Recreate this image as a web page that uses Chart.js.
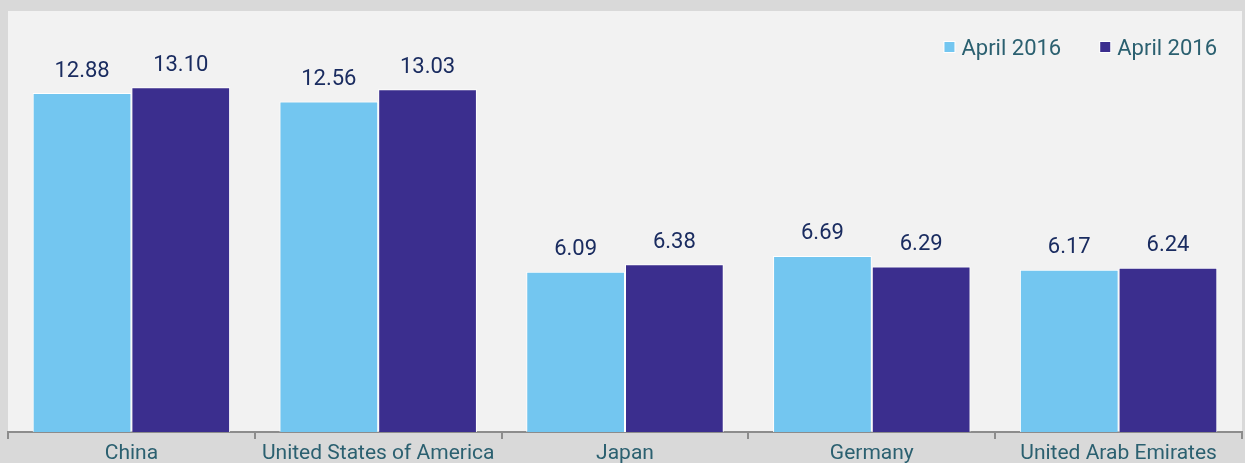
<!DOCTYPE html>
<html>
<head>
<meta charset="utf-8">
<script src="https://cdn.jsdelivr.net/npm/chart.js@4.4.1/dist/chart.umd.min.js"></script>
<style>
  html, body { margin: 0; padding: 0; background: #d9d9d9; }
  #wrap { width: 1245px; height: 463px; position: relative; }
</style>
</head>
<body>
<div id="wrap"><canvas id="c" width="1245" height="463"></canvas></div>
<script>
const categories = ['China', 'United States of America', 'Japan', 'Germany', 'United Arab Emirates'];
const seriesLabels = ['April 2016', 'April 2016'];
const seriesA = [12.88, 12.56, 6.09, 6.69, 6.17];
const seriesB = [13.10, 13.03, 6.38, 6.29, 6.24];
const yMax = 16;

const FONT = 'Roboto, "Open Sans", sans-serif';
const LIGHT = '#73c6f0';
const DARK = '#3b2e8e';
const TEAL = '#2b6070';
const NAVY = '#1a2c60';

const panelPlugin = {
  id: 'panel',
  beforeDraw(chart) {
    const { ctx, chartArea: a } = chart;
    ctx.save();
    ctx.fillStyle = '#f2f2f2';
    ctx.fillRect(a.left, a.top, a.right - a.left, a.bottom - a.top);
    ctx.restore();
  }
};

const labelPlugin = {
  id: 'valueLabels',
  afterDatasetsDraw(chart) {
    const { ctx } = chart;
    ctx.save();
    ctx.font = '22px ' + FONT;
    ctx.fillStyle = NAVY;
    ctx.textAlign = 'center';
    ctx.textBaseline = 'alphabetic';
    chart.data.datasets.forEach((ds, i) => {
      chart.getDatasetMeta(i).data.forEach((bar, j) => {
        ctx.fillText(ds.data[j].toFixed(2), bar.x, bar.y - 16.5);
      });
    });
    ctx.restore();
  }
};

const legendPlugin = {
  id: 'customLegend',
  afterDraw(chart) {
    const { ctx, chartArea: a } = chart;
    ctx.save();
    ctx.font = '22px ' + FONT;
    ctx.textBaseline = 'alphabetic';
    ctx.textAlign = 'left';
    const ds = chart.data.datasets;
    const box = 10, gapBoxText = 7, gapItems = 39;
    let x = a.right - 25;
    const baseline = 55;
    for (let i = ds.length - 1; i >= 0; i--) {
      const w = ctx.measureText(ds[i].label).width;
      const tx = x - w;
      ctx.fillStyle = TEAL;
      ctx.fillText(ds[i].label, tx, baseline);
      const bx = tx - gapBoxText - box;
      ctx.fillStyle = '#ffffff';
      ctx.fillRect(bx - 1, 42 - 1, box + 2, box + 2);
      ctx.fillStyle = ds[i].backgroundColor;
      ctx.fillRect(bx, 42, box, box);
      x = bx - gapItems;
    }
    ctx.restore();
  }
};

new Chart(document.getElementById('c'), {
  type: 'bar',
  data: {
    labels: categories,
    datasets: [
      { label: seriesLabels[0], data: seriesA, backgroundColor: LIGHT, borderColor: '#ffffff', borderWidth: 1 },
      { label: seriesLabels[1], data: seriesB, backgroundColor: DARK, borderColor: '#ffffff', borderWidth: 1 }
    ]
  },
  options: {
    responsive: false,
    animation: false,
    layout: { padding: { top: 11, left: 8, right: 3, bottom: 0 } },
    plugins: { legend: { display: false }, tooltip: { enabled: false }, title: { display: false } },
    datasets: { bar: { categoryPercentage: 0.8, barPercentage: 1.0 } },
    scales: {
      x: {
        offset: true,
        grid: { offset: true, drawOnChartArea: false, drawTicks: true, tickLength: 7, color: '#8c8c8c', lineWidth: 2 },
        border: { display: true, color: '#8c8c8c', width: 2 },
        ticks: { color: TEAL, font: { family: FONT, size: 21 }, padding: 2, maxRotation: 0, autoSkip: false },
        afterFit(scale) { scale.height = 31; }
      },
      y: {
        display: false,
        min: 0,
        max: yMax
      }
    }
  },
  plugins: [panelPlugin, labelPlugin, legendPlugin]
});
</script>
</body>
</html>
